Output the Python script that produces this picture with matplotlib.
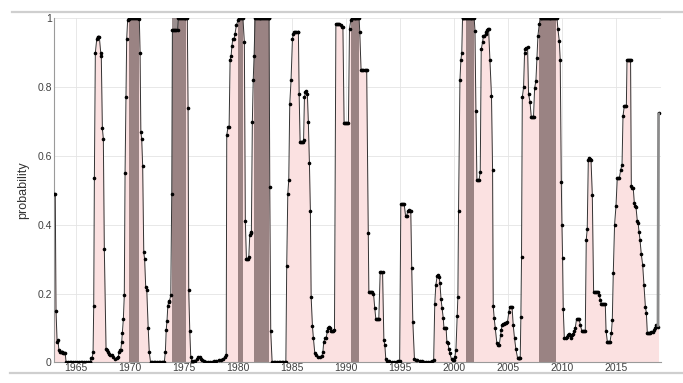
import matplotlib
matplotlib.use("Agg")
import matplotlib.pyplot as plt
from matplotlib.lines import Line2D

# recession probability (decimal year, probability)
dates = [
    1963.00, 1963.08, 1963.15, 1963.25, 1963.33, 1963.42, 1963.50, 1963.58, 1963.67, 1963.75, 1963.83, 1963.92, 1964.00, 1964.08,
    1964.25, 1964.42, 1964.58, 1964.75, 1964.92, 1965.08, 1965.25, 1965.42, 1965.58, 1965.75, 1965.92, 1966.08, 1966.25, 1966.33, 1966.42, 1966.50,
    1966.58, 1966.64, 1966.70, 1966.79, 1966.92, 1967.00, 1967.08, 1967.16, 1967.29, 1967.34, 1967.44, 1967.53, 1967.62, 1967.78,
    1967.86, 1967.95, 1968.05, 1968.15, 1968.30, 1968.45, 1968.61, 1968.77, 1968.90, 1969.00, 1969.08, 1969.14, 1969.23, 1969.29, 1969.38, 1969.47, 1969.54, 1969.63, 1969.69,
    1969.78, 1969.86, 1969.94, 1970.03, 1970.11, 1970.20, 1970.28, 1970.36, 1970.45, 1970.53, 1970.61, 1970.70, 1970.78, 1970.86,
    1970.93, 1971.00, 1971.08, 1971.17, 1971.27, 1971.35, 1971.45, 1971.55, 1971.68, 1971.78, 1971.90,
    1972.05, 1972.20, 1972.35, 1972.50, 1972.65, 1972.80, 1972.95, 1973.08, 1973.17,
    1973.27, 1973.35, 1973.42, 1973.50, 1973.58, 1973.65, 1973.77, 1973.86, 1973.92, 1974.00, 1974.10, 1974.20, 1974.30, 1974.40,
    1974.47, 1974.55, 1974.63, 1974.72, 1974.80, 1974.88, 1974.97, 1975.05, 1975.13, 1975.22, 1975.30,
    1975.37, 1975.43, 1975.53, 1975.62, 1975.75, 1975.90, 1976.05, 1976.20, 1976.33, 1976.45, 1976.55, 1976.65, 1976.80, 1977.00, 1977.20, 1977.40, 1977.60, 1977.80, 1978.00, 1978.20, 1978.40, 1978.60, 1978.80, 1978.90,
    1978.95, 1979.07, 1979.17, 1979.26, 1979.35, 1979.43, 1979.51, 1979.63, 1979.72, 1979.84, 1980.00, 1980.12, 1980.20, 1980.28, 1980.36, 1980.45,
    1980.58, 1980.67, 1980.77, 1980.85, 1980.93, 1980.99, 1981.08, 1981.15, 1981.23, 1981.32, 1981.40, 1981.48,
    1981.57, 1981.65, 1981.74, 1981.82, 1981.90, 1981.99, 1982.07, 1982.15, 1982.24, 1982.32, 1982.40, 1982.49, 1982.57, 1982.65, 1982.74, 1982.82, 1982.87,
    1982.93, 1983.02, 1983.15, 1983.30, 1983.45, 1983.60, 1983.75, 1983.90, 1984.05, 1984.20, 1984.35, 1984.42,
    1984.50, 1984.60, 1984.69, 1984.78, 1984.90, 1985.03, 1985.12, 1985.20, 1985.30, 1985.40, 1985.50, 1985.58, 1985.65, 1985.74, 1985.82, 1985.90, 1985.98, 1986.06, 1986.14, 1986.23, 1986.32, 1986.41,
    1986.50, 1986.60, 1986.69, 1986.76, 1986.88, 1986.97, 1987.10, 1987.25, 1987.43, 1987.60, 1987.75, 1987.85, 1987.93, 1988.06, 1988.16, 1988.26, 1988.36, 1988.45, 1988.52, 1988.60, 1988.68, 1988.80, 1988.92,
    1989.05, 1989.15, 1989.25, 1989.38, 1989.50, 1989.60, 1989.70, 1989.81, 1989.90, 1990.00, 1990.10, 1990.21, 1990.31, 1990.43, 1990.52, 1990.61, 1990.70, 1990.78, 1990.86, 1990.95, 1991.03, 1991.12, 1991.20,
    1991.26, 1991.38, 1991.50, 1991.60, 1991.70, 1991.80, 1991.90, 1992.04, 1992.10, 1992.20, 1992.30, 1992.42, 1992.53, 1992.65, 1992.75, 1992.85, 1992.95, 1993.02, 1993.15, 1993.25, 1993.37, 1993.49, 1993.58, 1993.67, 1993.80, 1994.00, 1994.20, 1994.40, 1994.60, 1994.80, 1994.95,
    1995.06, 1995.15, 1995.25, 1995.37, 1995.50, 1995.60, 1995.70, 1995.80, 1995.90, 1995.98, 1996.07, 1996.17, 1996.32, 1996.45, 1996.60, 1996.80, 1997.00, 1997.20, 1997.40, 1997.60, 1997.80, 1997.99,
    1998.10, 1998.20, 1998.30, 1998.42, 1998.52, 1998.60, 1998.68, 1998.78, 1998.88, 1998.98, 1999.05, 1999.15, 1999.25, 1999.32, 1999.42, 1999.50, 1999.60, 1999.75, 1999.85, 1999.95, 2000.06, 2000.16, 2000.28, 2000.34, 2000.40, 2000.53, 2000.62, 2000.70,
    2000.77, 2000.85, 2000.93, 2001.02, 2001.10, 2001.18, 2001.27, 2001.35, 2001.43, 2001.52, 2001.60, 2001.68, 2001.77, 2001.85,
    2001.92, 2002.01, 2002.10, 2002.20, 2002.30, 2002.41, 2002.50, 2002.62, 2002.71, 2002.80, 2002.90, 2002.96, 2003.05, 2003.12, 2003.18, 2003.30, 2003.45, 2003.55, 2003.61, 2003.70, 2003.80, 2003.95, 2004.05, 2004.17,
    2004.29, 2004.35, 2004.44, 2004.55, 2004.63, 2004.72, 2004.81, 2004.93, 2005.06, 2005.15, 2005.25, 2005.35, 2005.46, 2005.58, 2005.71, 2005.86, 2005.95, 2006.03, 2006.11, 2006.17, 2006.23, 2006.30, 2006.42, 2006.51, 2006.58, 2006.64, 2006.79, 2006.88, 2007.01, 2007.13, 2007.20, 2007.27, 2007.34, 2007.44, 2007.56, 2007.66, 2007.75, 2007.87,
    2007.99, 2008.07, 2008.16, 2008.24, 2008.32, 2008.41, 2008.49, 2008.57, 2008.66, 2008.74, 2008.82, 2008.91, 2008.99, 2009.07, 2009.16, 2009.24, 2009.32, 2009.41, 2009.51,
    2009.60, 2009.72, 2009.81, 2009.91, 2009.97, 2010.03, 2010.09, 2010.19, 2010.31, 2010.42, 2010.53, 2010.62, 2010.70, 2010.80, 2010.90, 2010.97, 2011.10, 2011.20, 2011.32, 2011.45, 2011.57, 2011.67, 2011.82, 2011.95, 2012.05, 2012.13,
    2012.22, 2012.31, 2012.41, 2012.50, 2012.58, 2012.66, 2012.78, 2012.90, 2013.00, 2013.10, 2013.20, 2013.31, 2013.43, 2013.53, 2013.61, 2013.70, 2013.80, 2013.90, 2013.98, 2014.05, 2014.17, 2014.25, 2014.33, 2014.42, 2014.54, 2014.63, 2014.72, 2014.84, 2014.97,
    2015.09, 2015.18, 2015.28, 2015.40, 2015.53, 2015.62, 2015.74, 2015.84, 2015.93, 2015.99, 2016.08, 2016.16, 2016.24, 2016.32, 2016.39, 2016.48, 2016.57, 2016.67, 2016.75, 2016.82, 2016.94, 2017.02, 2017.10, 2017.19, 2017.31, 2017.44, 2017.56, 2017.69, 2017.78, 2017.87, 2017.95, 2018.05, 2018.15, 2018.25, 2018.36, 2018.49, 2018.57, 2018.66, 2018.76, 2018.86, 2018.91,
]
prob = [
    0.49, 0.49, 0.15, 0.06, 0.065, 0.035, 0.03, 0.03, 0.03, 0.029, 0.028, 0.028, 0.027, 0.0,
    0, 0, 0, 0, 0, 0, 0, 0, 0, 0, 0, 0, 0, 0.0, 0.012, 0.014,
    0.03, 0.165, 0.535, 0.90, 0.94, 0.945, 0.945, 0.945, 0.90, 0.89, 0.68, 0.65, 0.33, 0.04,
    0.035, 0.03, 0.025, 0.022, 0.02, 0.015, 0.01, 0.012, 0.015, 0.03, 0.035, 0.035, 0.06, 0.085, 0.125, 0.195, 0.55, 0.77, 0.94,
    0.995, 0.998, 1, 1, 1, 1, 1, 1, 1, 1, 1, 1, 1, 0.998,
    0.90, 0.67, 0.65, 0.57, 0.32, 0.30, 0.22, 0.21, 0.10, 0.03, 0.0,
    0, 0, 0, 0, 0, 0, 0, 0, 0,
    0.03, 0.095, 0.12, 0.165, 0.175, 0.178, 0.195, 0.49, 0.965, 0.965, 0.965, 0.965, 0.965, 0.965,
    1, 1, 1, 1, 1, 1, 1, 1, 1, 1, 1,
    0.74, 0.21, 0.09, 0.015, 0.005, 0.004, 0.004, 0.01, 0.015, 0.015, 0.01, 0.006, 0.004, 0.001, 0.0, 0.0, 0.001, 0.003, 0.005, 0.006, 0.008, 0.01, 0.015, 0.02,
    0.66, 0.685, 0.685, 0.88, 0.89, 0.92, 0.94, 0.94, 0.956, 0.98, 0.995, 1, 1, 1, 1, 1,
    0.93, 0.41, 0.30, 0.30, 0.30, 0.305, 0.37, 0.375, 0.38, 0.70, 0.82, 0.89,
    1, 1, 1, 1, 1, 1, 1, 1, 1, 1, 1, 1, 1, 1, 1, 1, 1,
    0.51, 0.09, 0, 0, 0, 0, 0, 0, 0, 0, 0, 0.0,
    0.28, 0.49, 0.53, 0.75, 0.82, 0.94, 0.956, 0.96, 0.96, 0.96, 0.96, 0.96, 0.78, 0.64, 0.64, 0.64, 0.64, 0.645, 0.77, 0.785, 0.79, 0.78,
    0.70, 0.58, 0.44, 0.19, 0.105, 0.07, 0.026, 0.02, 0.016, 0.015, 0.018, 0.031, 0.06, 0.07, 0.072, 0.09, 0.10, 0.102, 0.10, 0.09, 0.09, 0.092, 0.095,
    0.985, 0.985, 0.985, 0.985, 0.98, 0.975, 0.975, 0.695, 0.695, 0.695, 0.695, 0.695, 0.97, 0.995, 1, 1, 1, 1, 1, 1, 1, 1, 1,
    0.96, 0.85, 0.85, 0.85, 0.85, 0.85, 0.85, 0.375, 0.205, 0.205, 0.205, 0.203, 0.20, 0.157, 0.125, 0.125, 0.125, 0.125, 0.263, 0.263, 0.263, 0.065, 0.05, 0.009, 0.004, 0.003, 0.002, 0.002, 0.002, 0.004, 0.005,
    0.46, 0.46, 0.46, 0.46, 0.425, 0.425, 0.44, 0.443, 0.44, 0.44, 0.273, 0.118, 0.009, 0.008, 0.007, 0.005, 0.003, 0.002, 0.001, 0.001, 0.002, 0.003,
    0.008, 0.17, 0.225, 0.25, 0.255, 0.249, 0.23, 0.183, 0.157, 0.13, 0.10, 0.10, 0.10, 0.06, 0.055, 0.04, 0.026, 0.009, 0.007, 0.008, 0.015, 0.036, 0.135, 0.19, 0.44, 0.82, 0.88, 0.90,
    1, 1, 1, 1, 1, 1, 1, 1, 1, 1, 1, 1, 1, 1,
    0.964, 0.73, 0.53, 0.53, 0.53, 0.554, 0.91, 0.93, 0.95, 0.95, 0.955, 0.96, 0.965, 0.97, 0.97, 0.88, 0.774, 0.56, 0.164, 0.128, 0.099, 0.055, 0.05, 0.05,
    0.08, 0.094, 0.108, 0.11, 0.112, 0.113, 0.115, 0.117, 0.147, 0.162, 0.162, 0.162, 0.108, 0.07, 0.038, 0.013, 0.013, 0.013, 0.013, 0.133, 0.307, 0.77, 0.80, 0.90, 0.91, 0.913, 0.916, 0.78, 0.758, 0.714, 0.714, 0.714, 0.714, 0.797, 0.818, 0.884, 0.95, 0.983,
    1, 1, 1, 1, 1, 1, 1, 1, 1, 1, 1, 1, 1, 1, 1, 1, 1, 1, 1,
    0.968, 0.935, 0.88, 0.525, 0.40, 0.302, 0.154, 0.07, 0.07, 0.075, 0.08, 0.082, 0.078, 0.072, 0.078, 0.082, 0.09, 0.10, 0.125, 0.125, 0.125, 0.108, 0.091, 0.091, 0.091, 0.091,
    0.357, 0.387, 0.588, 0.593, 0.59, 0.588, 0.486, 0.205, 0.205, 0.205, 0.205, 0.205, 0.196, 0.18, 0.171, 0.171, 0.171, 0.171, 0.171, 0.092, 0.06, 0.058, 0.058, 0.06, 0.084, 0.123, 0.259, 0.40, 0.454,
    0.535, 0.535, 0.535, 0.559, 0.574, 0.716, 0.745, 0.745, 0.745, 0.879, 0.879, 0.879, 0.879, 0.879, 0.512, 0.508, 0.506, 0.462, 0.455, 0.452, 0.412, 0.405, 0.38, 0.357, 0.315, 0.283, 0.225, 0.162, 0.144, 0.086, 0.086, 0.086, 0.086, 0.088, 0.089, 0.094, 0.10, 0.108, 0.105, 0.103, 0.726,
]
assert len(dates) == len(prob)

# shaded recessions (start, end)
rec_start = [1969.90, 1973.87, 1979.98, 1981.50, 1990.45, 2001.10, 2007.88]
rec_end = [1970.85, 1975.22, 1980.50, 1982.88, 1991.20, 2001.85, 2009.45]

year_ticks = [1965, 1970, 1975, 1980, 1985, 1990, 1995, 2000, 2005, 2010, 2015]
prob_ticks = [0, 0.2, 0.4, 0.6, 0.8, 1]
prob_labels = ["0", "0.2", "0.4", "0.6", "0.8", "1"]

plt.rcParams['font.family'] = ['Liberation Sans', 'DejaVu Sans']

fig = plt.figure(figsize=(6.83, 3.83), dpi=100)
ax = fig.add_axes([0.079, 0.054, 0.889, 0.898])

ax.fill_between(dates, prob, 0, color='#fbe1e1', lw=0, zorder=1)
for s, e in zip(rec_start, rec_end):
    ax.axvspan(s, e, ymin=0, ymax=1, color=(0.35, 0.27, 0.27), alpha=0.6, lw=0, zorder=2)
ax.plot(dates, prob, color='#333333', lw=0.7, marker='o', ms=1.6, mfc='black', mec='black', zorder=3)
ax.plot(dates[-2:], prob[-2:], color='#8c8c8c', lw=2, solid_capstyle='butt', zorder=3)

ax.set_xlim(1962.96, 2019.15)
ax.set_ylim(0, 1)
ax.set_xticks(year_ticks)
ax.set_yticks(prob_ticks)
ax.set_yticklabels(prob_labels)
ax.grid(True, color='#e4e4e4', lw=0.6, zorder=0)
ax.set_axisbelow(True)
ax.tick_params(length=0, labelsize=7.5, labelcolor='#404040', pad=1.5)
ax.tick_params(axis='x', pad=0.5)
for side in ['top', 'right']:
    ax.spines[side].set_visible(False)
for side in ['left', 'bottom']:
    ax.spines[side].set_color('#9a9a9a')
    ax.spines[side].set_linewidth(0.8)
ax.set_ylabel('probability', fontsize=9, color='#333333', labelpad=6)

# frame lines of the surrounding figure
fig.add_artist(Line2D([0.018, 1.0], [0.969, 0.969], color='#cfcfcf', lw=1.6))
fig.add_artist(Line2D([0.015, 1.0], [0.026, 0.026], color='#cfcfcf', lw=1.6))

fig.savefig('out.png', dpi=100)
